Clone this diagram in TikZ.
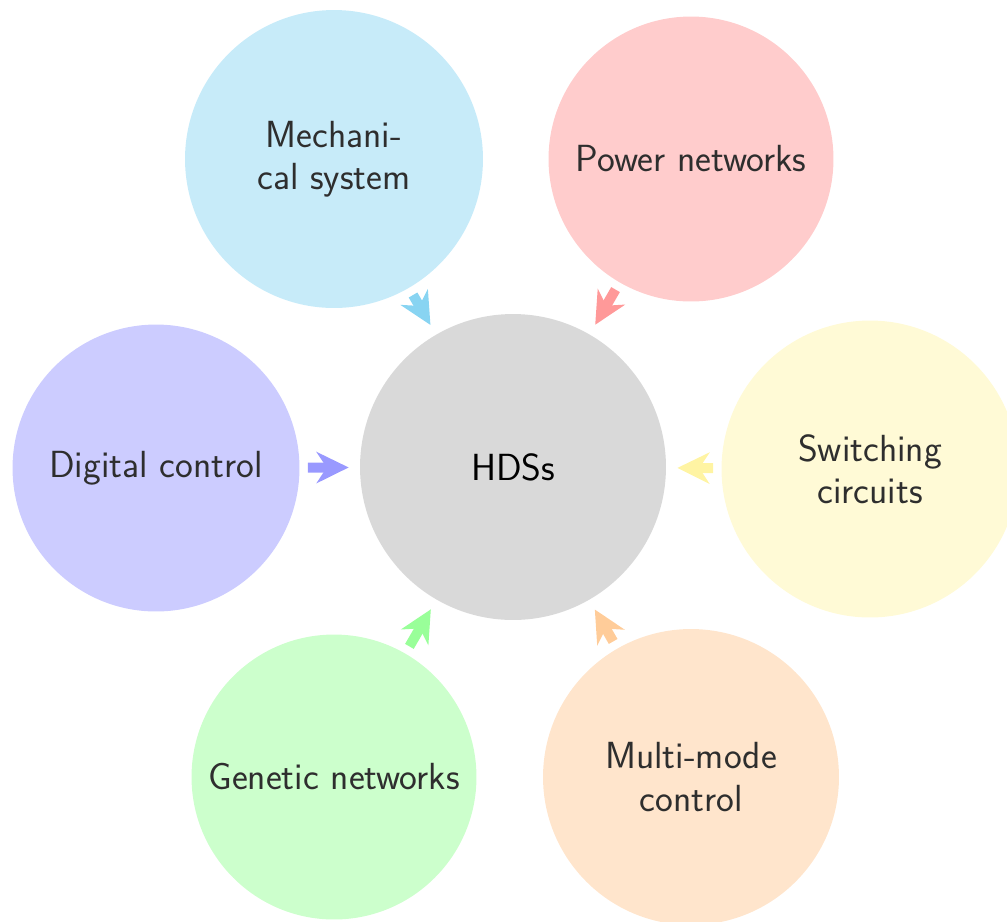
\documentclass[tikz,border=0pt]{standalone}
\usepackage{tikz}
\usetikzlibrary{arrows.meta}
\definecolor{hdInk}{HTML}{2E2E2E}
\definecolor{hdCore}{HTML}{D9D9D9}
\definecolor{hdMech}{HTML}{C7EBF9}
\definecolor{hdMechA}{HTML}{88D4F2}
\definecolor{hdPower}{HTML}{FFCCCC}
\definecolor{hdPowerA}{HTML}{FF9999}
\definecolor{hdSwitch}{HTML}{FFFAD6}
\definecolor{hdSwitchA}{HTML}{FFF4A3}
\definecolor{hdDigital}{HTML}{CCCCFF}
\definecolor{hdDigitalA}{HTML}{9999FF}
\definecolor{hdGenetic}{HTML}{CCFFCC}
\definecolor{hdGeneticA}{HTML}{99FF99}
\definecolor{hdMulti}{HTML}{FFE5CC}
\definecolor{hdMultiA}{HTML}{FFCC99}
\tikzset{
  hdBubble/.style={circle,draw=none,inner sep=0pt,align=center,text=hdInk,
    font=\sffamily\fontsize{21.5}{24.2}\selectfont},
  hdCoreNode/.style={hdBubble,fill=hdCore,text=black,minimum size=6.12cm},
  hdArrow/.style={-{Stealth[length=6.4mm,width=6.2mm,inset=2mm]},
    line width=2mm,shorten <=1.6mm,shorten >=2.2mm}
}

\begin{document}
\begin{tikzpicture}[x=0.02cm,y=-0.02cm]
\path[use as bounding box] (0,0) rectangle (1007,921);
\node[hdCoreNode] (hds) at (513,467) {HDSs};
\node[hdBubble,fill=hdMech,minimum size=5.96cm] (mech) at (334,159)
  {Mechani-\\cal system};
\node[hdBubble,fill=hdPower,minimum size=5.7cm] (power) at (691,159)
  {Power networks};
\node[hdBubble,fill=hdSwitch,minimum size=5.94cm] (switch) at (870,469)
  {Switching\\circuits};
\node[hdBubble,fill=hdDigital,minimum size=5.74cm] (digital) at (156,468)
  {Digital control};
\node[hdBubble,fill=hdGenetic,minimum size=5.7cm] (genetic) at (334,777)
  {Genetic networks};
\node[hdBubble,fill=hdMulti,minimum size=5.92cm] (multi) at (691,777)
  {Multi-mode\\control};
% short arrows into the core
\draw[hdArrow,draw=hdMechA] (mech) -- (hds);
\draw[hdArrow,draw=hdPowerA] (power) -- (hds);
\draw[hdArrow,draw=hdSwitchA] (switch) -- (hds);
\draw[hdArrow,draw=hdDigitalA] (digital) -- (hds);
\draw[hdArrow,draw=hdGeneticA] (genetic) -- (hds);
\draw[hdArrow,draw=hdMultiA] (multi) -- (hds);
\end{tikzpicture}
\end{document}
